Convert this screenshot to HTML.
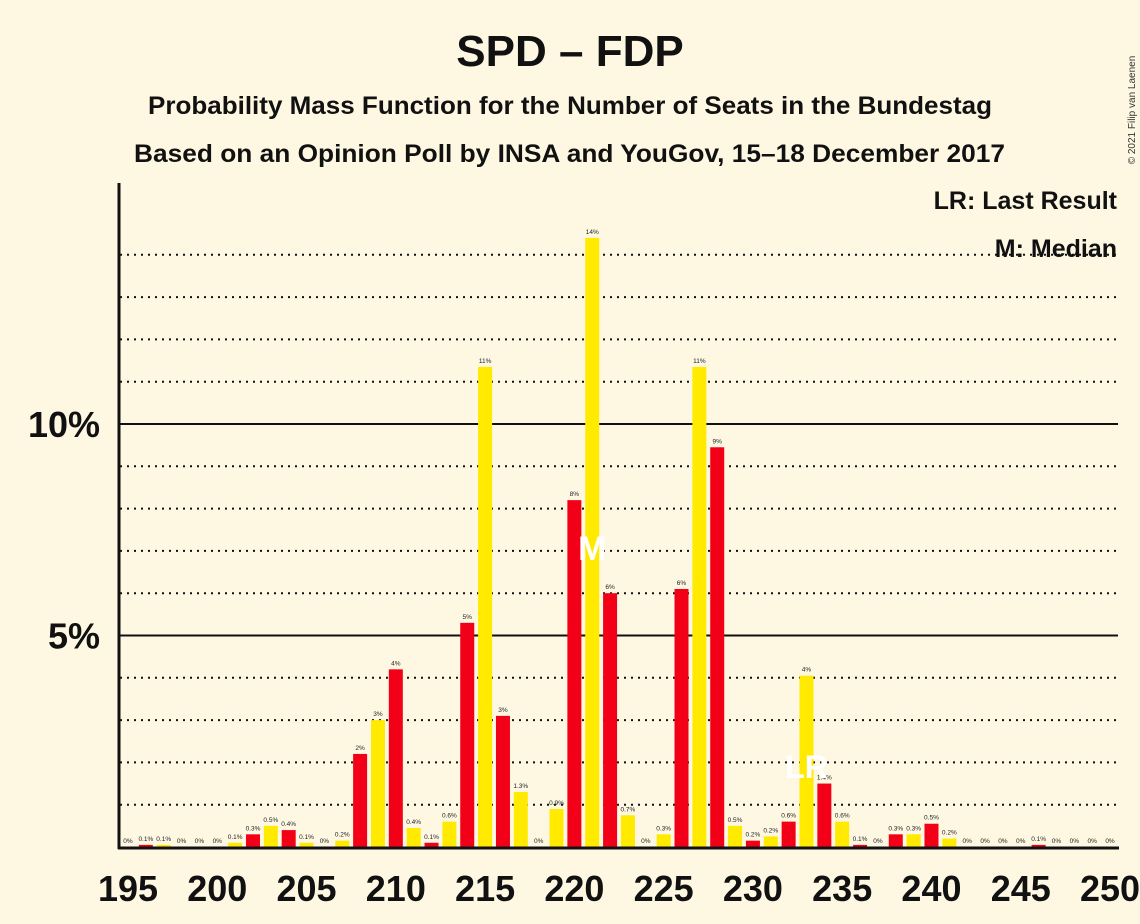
<!DOCTYPE html>
<html><head><meta charset="utf-8"><style>
html,body{margin:0;padding:0;background:#fef8e3;}
svg{display:block;font-family:"Liberation Sans",sans-serif;}
</style></head><body>
<svg id="chart" width="1140" height="924" viewBox="0 0 1140 924">
<rect x="0" y="0" width="1140" height="924" fill="#fef8e3"/>
<text x="570" y="66" text-anchor="middle" font-size="44" font-weight="bold" fill="#111">SPD – FDP</text>
<text x="148" y="114" textLength="844" lengthAdjust="spacingAndGlyphs" font-size="25" font-weight="bold" fill="#111">Probability Mass Function for the Number of Seats in the Bundestag</text>
<text x="134" y="162" textLength="871" lengthAdjust="spacingAndGlyphs" font-size="25" font-weight="bold" fill="#111">Based on an Opinion Poll by INSA and YouGov, 15–18 December 2017</text>
<text x="1135" y="110" font-size="10" fill="#333" transform="rotate(-90 1135 110)" text-anchor="middle">© 2021 Filip van Laenen</text>
<text x="1117" y="209" text-anchor="end" font-size="25" font-weight="bold" fill="#111">LR: Last Result</text>
<text x="1117" y="257" text-anchor="end" font-size="25" font-weight="bold" fill="#111">M: Median</text>
<g id="grid"></g><g id="bars"></g><g id="labels"></g><g id="axes"></g>
</svg>
<script>
const seats=[195,196,197,198,199,200,201,202,203,204,205,206,207,208,209,210,211,212,213,214,215,216,217,218,219,220,221,222,223,224,225,226,227,228,229,230,231,232,233,234,235,236,237,238,239,240,241,242,243,244,245,246,247,248,249,250];
const probs=[0,0.05,0.05,0,0,0,0.1,0.3,0.5,0.4,0.1,0,0.15,2.2,3.0,4.2,0.45,0.1,0.6,5.3,11.35,3.1,1.3,0,0.9,8.2,14.4,6.0,0.75,0,0.3,6.1,11.35,9.45,0.5,0.15,0.25,0.6,4.05,1.5,0.6,0.05,0,0.3,0.3,0.55,0.2,0,0,0,0,0.05,0,0,0,0];
const valueLabels=["0%","0.1%","0.1%","0%","0%","0%","0.1%","0.3%","0.5%","0.4%","0.1%","0%","0.2%","2%","3%","4%","0.4%","0.1%","0.6%","5%","11%","3%","1.3%","0%","0.9%","8%","14%","6%","0.7%","0%","0.3%","6%","11%","9%","0.5%","0.2%","0.2%","0.6%","4%","1.4%","0.6%","0.1%","0%","0.3%","0.3%","0.5%","0.2%","0%","0%","0%","0%","0.1%","0%","0%","0%","0%"];
const xTicks=[195,200,205,210,215,220,225,230,235,240,245,250];
const yMajor=[5,10];
const yMinor=[1,2,3,4,6,7,8,9,11,12,13,14];
const medianSeat=221, lastResultSeat=233;

const NS="http://www.w3.org/2000/svg";
const X=s=>128+(s-195)*17.855;
const Y=p=>847-p*42.3;
function mk(tag,attrs,parent,text){const e=document.createElementNS(NS,tag);for(const k in attrs)e.setAttribute(k,attrs[k]);if(text!==undefined)e.textContent=text;parent.appendChild(e);return e;}
const grid=document.getElementById('grid'),bars=document.getElementById('bars'),labels=document.getElementById('labels'),axes=document.getElementById('axes');
yMinor.forEach(v=>{const l=mk('line',{x1:120,x2:1118,y1:Y(v),y2:Y(v),stroke:'#111','stroke-width':2,'stroke-dasharray':'2,5'},grid);

});
yMajor.forEach(v=>{const l=mk('line',{x1:120,x2:1118,y1:Y(v),y2:Y(v),stroke:'#111','stroke-width':2},grid);


const t=mk('text',{x:100,y:Y(v)+13,'text-anchor':'end','font-size':36,'font-weight':'bold',fill:'#111'},axes,v+'%');

});
seats.forEach((s,i)=>{const p=probs[i];const red=s%2===0;
if(p>0){const r=mk('rect',{x:X(s)-7,y:Y(p),width:14,height:847-Y(p),fill:red?'#f20017':'#ffea00'},bars);

}
const t=mk('text',{x:X(s),y:Y(p)-4,'text-anchor':'middle','font-size':6.5,fill:'#222'},labels,valueLabels[i]);

});
const m=mk('text',{x:X(medianSeat),y:560,'text-anchor':'middle','font-size':34,'font-weight':'bold',fill:'#fff'},labels,'M');


const lr=mk('text',{x:X(lastResultSeat),y:778,'text-anchor':'middle','font-size':32,'font-weight':'bold',fill:'#fff'},labels,'LR');


const ya=mk('line',{x1:119,x2:119,y1:183,y2:849,stroke:'#111','stroke-width':3},axes);


const xa=mk('line',{x1:118,x2:1119,y1:848,y2:848,stroke:'#111','stroke-width':3},axes);


xTicks.forEach(s=>{const t=mk('text',{x:X(s),y:901,'text-anchor':'middle','font-size':36,'font-weight':'bold',fill:'#111'},axes,String(s));

});
</script>
</body></html>
